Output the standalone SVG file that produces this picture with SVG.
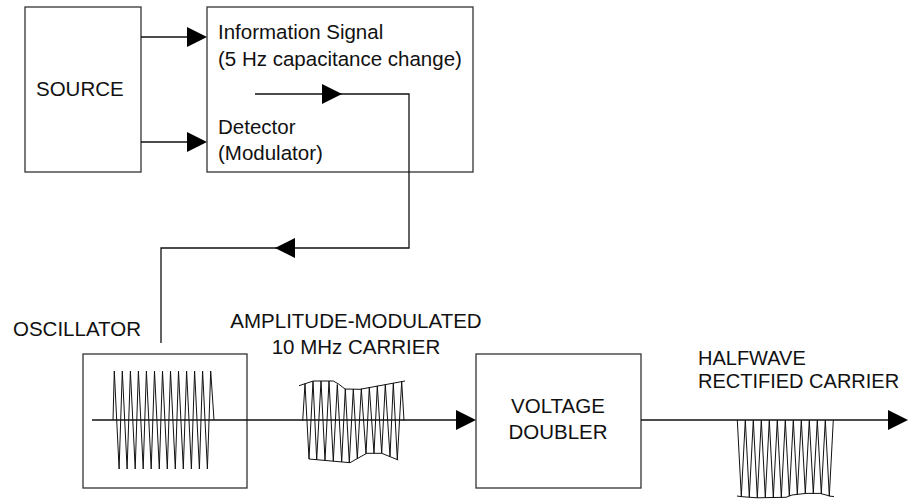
<svg xmlns="http://www.w3.org/2000/svg" width="911" height="499" viewBox="0 0 911 499">
<style>
.box{fill:none;stroke:#333;stroke-width:1.3}
.ln{fill:none;stroke:#111;stroke-width:1.3}
.wave{fill:none;stroke:#111;stroke-width:1;stroke-linejoin:miter}
.t{font-family:"Liberation Sans",Arial,sans-serif;font-size:20.5px;fill:#111}
.mid{text-anchor:middle}
.hw{font-size:20px}
</style>
<defs>
<path id="ah" d="M0,0 L-20,-10 L-20,10 Z" fill="#000"/>
</defs>
<rect width="911" height="499" fill="#fff"/>

<g id="source">
<rect class="box" x="25" y="7" width="116" height="165"/>
<text class="t" x="36" y="96">SOURCE</text>
</g>

<g id="info-detector">
<rect class="box" x="207" y="7" width="266" height="165"/>
<text class="t" x="218" y="39">Information Signal</text>
<text class="t" x="218" y="65.5">(5 Hz capacitance change)</text>
<text class="t" x="218" y="134">Detector</text>
<text class="t" x="218" y="160">(Modulator)</text>
</g>

<g id="oscillator">
<rect class="box" x="83" y="354" width="164" height="134"/>
<text class="t" x="13" y="336">OSCILLATOR</text>
<polyline class="wave" points="113,420 114.3,371 119.1,469 122.3,371 127.1,469 130.4,371 135.2,469 138.4,371 143.2,469 146.4,371 151.2,469 154.5,371 159.3,469 162.5,371 167.3,469 170.5,371 175.3,469 178.5,371 183.3,469 186.6,371 191.4,469 194.6,371 199.4,469 202.6,371 207.4,469 210.7,371 214,420"/>
</g>

<g id="am-carrier">
<text class="t mid" x="356" y="327.5">AMPLITUDE-MODULATED</text>
<text class="t mid" x="356" y="353.5">10 MHz CARRIER</text>
<polyline class="wave" points="302.7,420.7 305,383.7 309,459 313,381 316.7,459.7 321,381 325,460.4 329,381 333.3,461.2 337.3,384.5 341.7,461.9 345.3,389 349.3,462.6 353.3,389 357.3,458.7 361.3,388.8 366,453.8 369.3,387.3 374,453.3 377.3,385.9 381.7,453.3 385.3,384.5 390,456.6 393.3,383.1 397.3,459.7 401.7,381.6 404,420.7"/>
<path class="wave" d="M299,385.7 L313.3,381 L333.3,381 Q338,383 345,389 L360,389.3 L405,381"/>
<path class="wave" d="M309,459 L350,462.7 L366.7,453.3 L381.7,453.3 L398.3,460"/>
</g>

<g id="voltage-doubler">
<rect class="box" x="476" y="354" width="165" height="134"/>
<text class="t mid" x="558" y="413">VOLTAGE</text>
<text class="t mid" x="558" y="439">DOUBLER</text>
</g>

<g id="halfwave">
<text class="t hw" x="698" y="365">HALFWAVE</text>
<text class="t hw" x="698" y="388">RECTIFIED CARRIER</text>
<polyline class="wave" points="737.3,420 741.3,496.6 745.3,420 749.3,497.2 753.3,420 757.3,497.8 761.3,420 765.3,497.7 769.3,420 773.3,497.6 777.3,420 781.3,497.4 785.3,420 789.3,496 793.3,420 797.3,494.3 801.3,420 805.3,493.5 809.3,420 813.3,493.5 817.3,420 821.3,493.8 825.3,420 829.3,496.3 833.3,420"/>
<path class="wave" d="M737,496 L741,496.6 L757,497.8 L786,497.3 L792,495 L806,493.4 L820,493.4 L831,496.3 L834,496.5"/>
</g>

<g id="connectors">
<path class="ln" d="M141,37 H200"/>
<use href="#ah" x="207" y="37"/>
<path class="ln" d="M141,142 H200"/>
<use href="#ah" x="207" y="142"/>
<path class="ln" d="M255,94 H409 V248 H161 V343"/>
<use href="#ah" x="342" y="94"/>
<use href="#ah" transform="translate(275,248) rotate(180)"/>
<path class="ln" d="M92,420 H470"/>
<use href="#ah" x="476" y="420"/>
<path class="ln" d="M641,420 H900"/>
<use href="#ah" x="908" y="420"/>
</g>
</svg>
